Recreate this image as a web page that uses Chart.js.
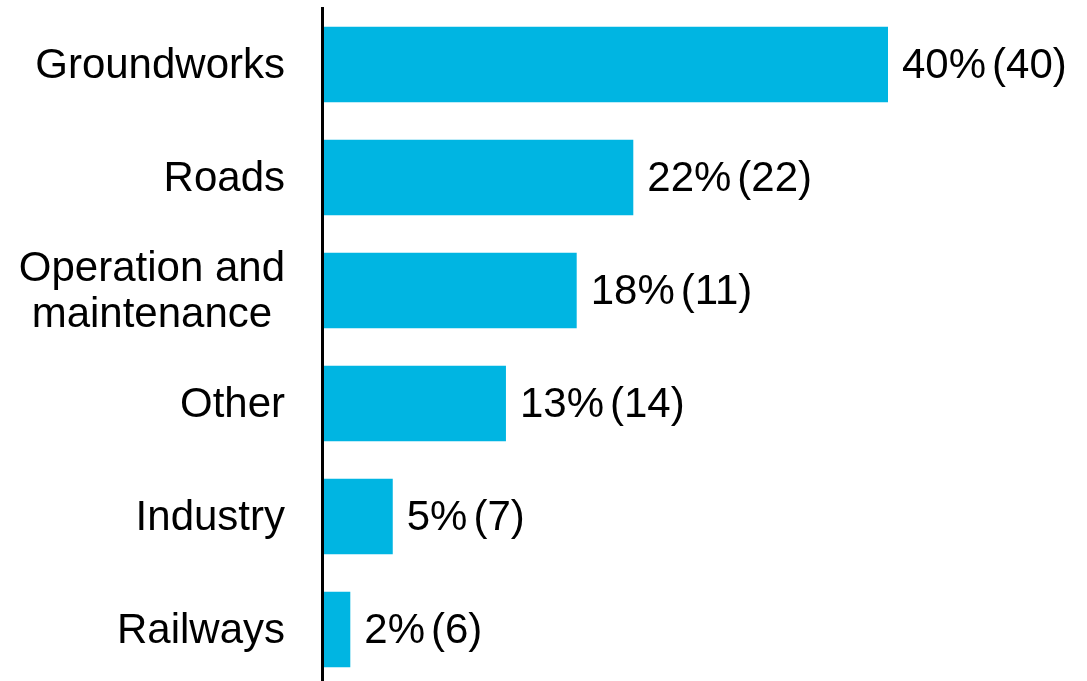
<!DOCTYPE html>
<html>
<head>
<meta charset="utf-8">
<script src="https://cdn.jsdelivr.net/npm/chart.js@4"></script>
<style>
  html, body { margin: 0; padding: 0; background: #fff; overflow: hidden; }
  #wrap { position: absolute; left: 0; top: 0; width: 1087px; height: 686px; }
</style>
</head>
<body>
<div id="wrap"><canvas id="sectorChart"></canvas></div>
<script>
// sectors, share in percent and number of replies
const categories = ['Groundworks', 'Roads', ['Operation and', 'maintenance'], 'Other', 'Industry', 'Railways'];
const percents = [40, 22, 18, 13, 5, 2];
const counts = [40, 22, 11, 14, 7, 6];

const FONT = '42px Arial, "Liberation Sans", sans-serif';

// draws the sector names (centred lines) and the "x% (n)" labels
const labelPlugin = {
    id: 'labelPlugin',
    afterDraw(chart) {
        const ctx = chart.ctx;
        const yScale = chart.scales.y;
        const xScale = chart.scales.x;
        const meta = chart.getDatasetMeta(0);
        ctx.save();
        ctx.font = FONT;
        ctx.fillStyle = '#000';
        ctx.textBaseline = 'middle';

        categories.forEach(function(cat, i) {
            const y = yScale.getPixelForValue(i) + 2;
            const rightEdge = chart.chartArea.left - 37;
            if (Array.isArray(cat)) {
                const widest = Math.max.apply(null, cat.map(function(s) { return ctx.measureText(s).width; }));
                const cx = rightEdge - widest / 2;
                ctx.textAlign = 'center';
                const lineH = 46;
                cat.forEach(function(line, k) {
                    ctx.fillText(line, cx, y + (k - (cat.length - 1) / 2) * lineH);
                });
            } else {
                ctx.textAlign = 'right';
                ctx.fillText(cat, rightEdge, y);
            }
        });

        ctx.textAlign = 'left';
        meta.data.forEach(function(bar, i) {
            const x = xScale.getPixelForValue(percents[i]) + 14;
            const pct = percents[i] + '%';
            ctx.fillText(pct, x, bar.y + 2);
            ctx.fillText('(' + counts[i] + ')', x + ctx.measureText(pct).width + 6, bar.y + 2);
        });
        ctx.restore();
    }
};

document.addEventListener('DOMContentLoaded', function() {
    const config = {
        type: 'bar',
        data: {
            labels: categories,
            datasets: [{
                data: percents,
                backgroundColor: '#00B5E2',
                borderWidth: 0,
                barPercentage: 0.67,
                categoryPercentage: 1
            }]
        },
        options: {
            indexAxis: 'y',
            responsive: true,
            maintainAspectRatio: false,
            animation: false,
            layout: { padding: { left: 322, top: 8, right: 57.5, bottom: 0 } },
            plugins: {
                legend: { display: false },
                tooltip: { enabled: false }
            },
            scales: {
                x: { display: false, min: 0, max: 50 },
                y: {
                    grid: { display: false, drawTicks: false },
                    border: { display: true, color: '#000', width: 3, z: 1 },
                    ticks: { display: false }
                }
            }
        },
        plugins: [labelPlugin]
    };

    new Chart(document.getElementById('sectorChart'), config);
});
</script>
</body>
</html>
